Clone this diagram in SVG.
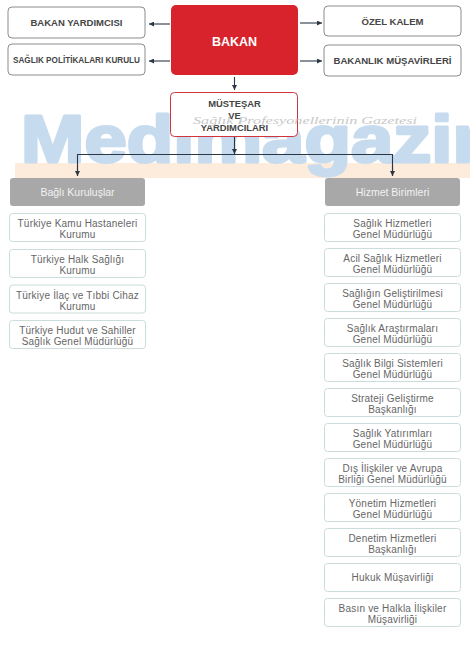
<svg xmlns="http://www.w3.org/2000/svg" width="470" height="645" viewBox="0 0 470 645">
<defs>
<marker id="ah" viewBox="0 0 6 6" refX="6" refY="3" markerWidth="5" markerHeight="5" markerUnits="userSpaceOnUse" orient="auto">
<path d="M0,0 L6,3 L0,6 z" fill="#2b3745"/>
</marker>
<style>
.top{fill:#fff;stroke:#8c8c8c;stroke-width:1}
.toptx{font-family:"Liberation Sans",Arial,sans-serif;font-weight:bold;fill:#454545;text-anchor:middle}
.grey{fill:#a8a8a8}
.greytx{font-family:"Liberation Sans",Arial,sans-serif;font-size:10.5px;fill:#f2f2f2;text-anchor:middle}
.unit{fill:#fff;stroke:#cadcdb;stroke-width:1}
.unittx{font-family:"Liberation Sans",Arial,sans-serif;font-size:10px;letter-spacing:0.2px;fill:#666;text-anchor:middle}
.conn{stroke:#2b3745;stroke-width:1.1;fill:none}
</style>
</defs>
<rect width="470" height="645" fill="#fff"/>
<g id="watermark-back">
<rect x="15" y="163" width="455" height="15" fill="#fdecdb"/>
<text x="21" y="162" font-family="Liberation Sans,Arial,sans-serif" font-weight="bold" font-size="66" fill="#c7dbef" stroke="#c7dbef" stroke-width="3" stroke-linejoin="round" textLength="478" lengthAdjust="spacingAndGlyphs">Medimagazin</text>
</g>
<g id="bakan-yardimcisi"><rect class="top" x="8" y="7" width="137" height="31" rx="4"/><text class="toptx" x="76.5" y="26" font-size="9" textLength="92" lengthAdjust="spacingAndGlyphs">BAKAN YARDIMCISI</text></g>
<g id="saglik-politikalari"><rect class="top" x="8" y="44" width="137" height="31" rx="4"/><text class="toptx" x="76.5" y="63" font-size="8.4" textLength="127" lengthAdjust="spacingAndGlyphs">SAĞLIK POLİTİKALARI KURULU</text></g>
<g id="bakan"><rect x="171" y="5" width="127" height="70" rx="5" fill="#d8232d"/><text x="234.5" y="46" font-family="Liberation Sans,Arial,sans-serif" font-weight="bold" font-size="12.5" fill="#fff" text-anchor="middle">BAKAN</text></g>
<g id="ozel-kalem"><rect class="top" x="324" y="6" width="137" height="30" rx="4"/><text class="toptx" x="392.5" y="25" font-size="9" textLength="62" lengthAdjust="spacingAndGlyphs">ÖZEL KALEM</text></g>
<g id="bakanlik-musavirleri"><rect class="top" x="324" y="45" width="137" height="31" rx="4"/><text class="toptx" x="392.5" y="64" font-size="9" textLength="118" lengthAdjust="spacingAndGlyphs">BAKANLIK MÜŞAVİRLERİ</text></g>
<g id="mustesar"><rect x="170.5" y="92.5" width="127" height="44" rx="4" fill="#fff" stroke="#d0343e" stroke-width="1"/>
<text class="toptx" x="234.5" y="107" font-size="9.4">MÜSTEŞAR</text>
<text class="toptx" x="234.5" y="119" font-size="9.4">VE</text>
<text class="toptx" x="234.5" y="131" font-size="9.4">YARDIMCILARI</text></g>
<g id="watermark-front">
<text x="193" y="124" font-family="Liberation Serif,serif" font-style="italic" font-size="11" fill="#c8c8c8" textLength="224" lengthAdjust="spacingAndGlyphs">Sağlık Profesyonellerinin Gazetesi</text>
</g>
<g id="connectors">
<line class="conn" x1="170" y1="24" x2="149" y2="24" marker-end="url(#ah)"/>
<line class="conn" x1="170" y1="61" x2="149" y2="61" marker-end="url(#ah)"/>
<line class="conn" x1="300" y1="23" x2="322" y2="23" marker-end="url(#ah)"/>
<line class="conn" x1="300" y1="61" x2="322" y2="61" marker-end="url(#ah)"/>
<line class="conn" x1="234.5" y1="77" x2="234.5" y2="90" marker-end="url(#ah)"/>
<line class="conn" x1="234.5" y1="137" x2="234.5" y2="154" marker-end="url(#ah)"/>
<polyline class="conn" points="77.5,176 77.5,154.5 392.5,154.5 392.5,176"/>
<line class="conn" x1="77.5" y1="165" x2="77.5" y2="176" marker-end="url(#ah)"/>
<line class="conn" x1="392.5" y1="165" x2="392.5" y2="176" marker-end="url(#ah)"/>
</g>
<g id="bagli-kuruluslar"><rect class="grey" x="10" y="178" width="135" height="28" rx="3"/><text class="greytx" x="77.5" y="196">Bağlı Kuruluşlar</text></g>
<g id="hizmet-birimleri"><rect class="grey" x="325" y="178" width="135" height="28" rx="3"/><text class="greytx" x="392.5" y="196">Hizmet Birimleri</text></g>
<g id="l1"><rect class="unit" x="9.5" y="213.5" width="136" height="28" rx="3"/><text class="unittx" x="77.5" y="227">Türkiye Kamu Hastaneleri</text><text class="unittx" x="77.5" y="238">Kurumu</text></g>
<g id="l2"><rect class="unit" x="9.5" y="249.5" width="136" height="28" rx="3"/><text class="unittx" x="77.5" y="263">Türkiye Halk Sağlığı</text><text class="unittx" x="77.5" y="274">Kurumu</text></g>
<g id="l3"><rect class="unit" x="9.5" y="285" width="136" height="28" rx="3"/><text class="unittx" x="77.5" y="298.5">Türkiye İlaç ve Tıbbi Cihaz</text><text class="unittx" x="77.5" y="309.5">Kurumu</text></g>
<g id="l4"><rect class="unit" x="9.5" y="320.5" width="136" height="28" rx="3"/><text class="unittx" x="77.5" y="334">Türkiye Hudut ve Sahiller</text><text class="unittx" x="77.5" y="345">Sağlık Genel Müdürlüğü</text></g>
<g id="r1"><rect class="unit" x="324.5" y="213.5" width="136" height="28" rx="3"/><text class="unittx" x="392.5" y="227">Sağlık Hizmetleri</text><text class="unittx" x="392.5" y="238">Genel Müdürlüğü</text></g>
<g id="r2"><rect class="unit" x="324.5" y="248.5" width="136" height="28" rx="3"/><text class="unittx" x="392.5" y="262">Acil Sağlık Hizmetleri</text><text class="unittx" x="392.5" y="273">Genel Müdürlüğü</text></g>
<g id="r3"><rect class="unit" x="324.5" y="283.5" width="136" height="28" rx="3"/><text class="unittx" x="392.5" y="297">Sağlığın Geliştirilmesi</text><text class="unittx" x="392.5" y="308">Genel Müdürlüğü</text></g>
<g id="r4"><rect class="unit" x="324.5" y="318.5" width="136" height="28" rx="3"/><text class="unittx" x="392.5" y="332">Sağlık Araştırmaları</text><text class="unittx" x="392.5" y="343">Genel Müdürlüğü</text></g>
<g id="r5"><rect class="unit" x="324.5" y="353.5" width="136" height="28" rx="3"/><text class="unittx" x="392.5" y="367">Sağlık Bilgi Sistemleri</text><text class="unittx" x="392.5" y="378">Genel Müdürlüğü</text></g>
<g id="r6"><rect class="unit" x="324.5" y="388.5" width="136" height="28" rx="3"/><text class="unittx" x="392.5" y="402">Strateji Geliştirme</text><text class="unittx" x="392.5" y="413">Başkanlığı</text></g>
<g id="r7"><rect class="unit" x="324.5" y="423.5" width="136" height="28" rx="3"/><text class="unittx" x="392.5" y="437">Sağlık Yatırımları</text><text class="unittx" x="392.5" y="448">Genel Müdürlüğü</text></g>
<g id="r8"><rect class="unit" x="324.5" y="458.5" width="136" height="28" rx="3"/><text class="unittx" x="392.5" y="472">Dış İlişkiler ve Avrupa</text><text class="unittx" x="392.5" y="483">Birliği Genel Müdürlüğü</text></g>
<g id="r9"><rect class="unit" x="324.5" y="493.5" width="136" height="28" rx="3"/><text class="unittx" x="392.5" y="507">Yönetim Hizmetleri</text><text class="unittx" x="392.5" y="518">Genel Müdürlüğü</text></g>
<g id="r10"><rect class="unit" x="324.5" y="528.5" width="136" height="28" rx="3"/><text class="unittx" x="392.5" y="542">Denetim Hizmetleri</text><text class="unittx" x="392.5" y="553">Başkanlığı</text></g>
<g id="r11"><rect class="unit" x="324.5" y="563.5" width="136" height="28" rx="3"/><text class="unittx" x="392.5" y="581">Hukuk Müşavirliği</text></g>
<g id="r12"><rect class="unit" x="324.5" y="598.5" width="136" height="28" rx="3"/><text class="unittx" x="392.5" y="612">Basın ve Halkla İlişkiler</text><text class="unittx" x="392.5" y="623">Müşavirliği</text></g>
</svg>
